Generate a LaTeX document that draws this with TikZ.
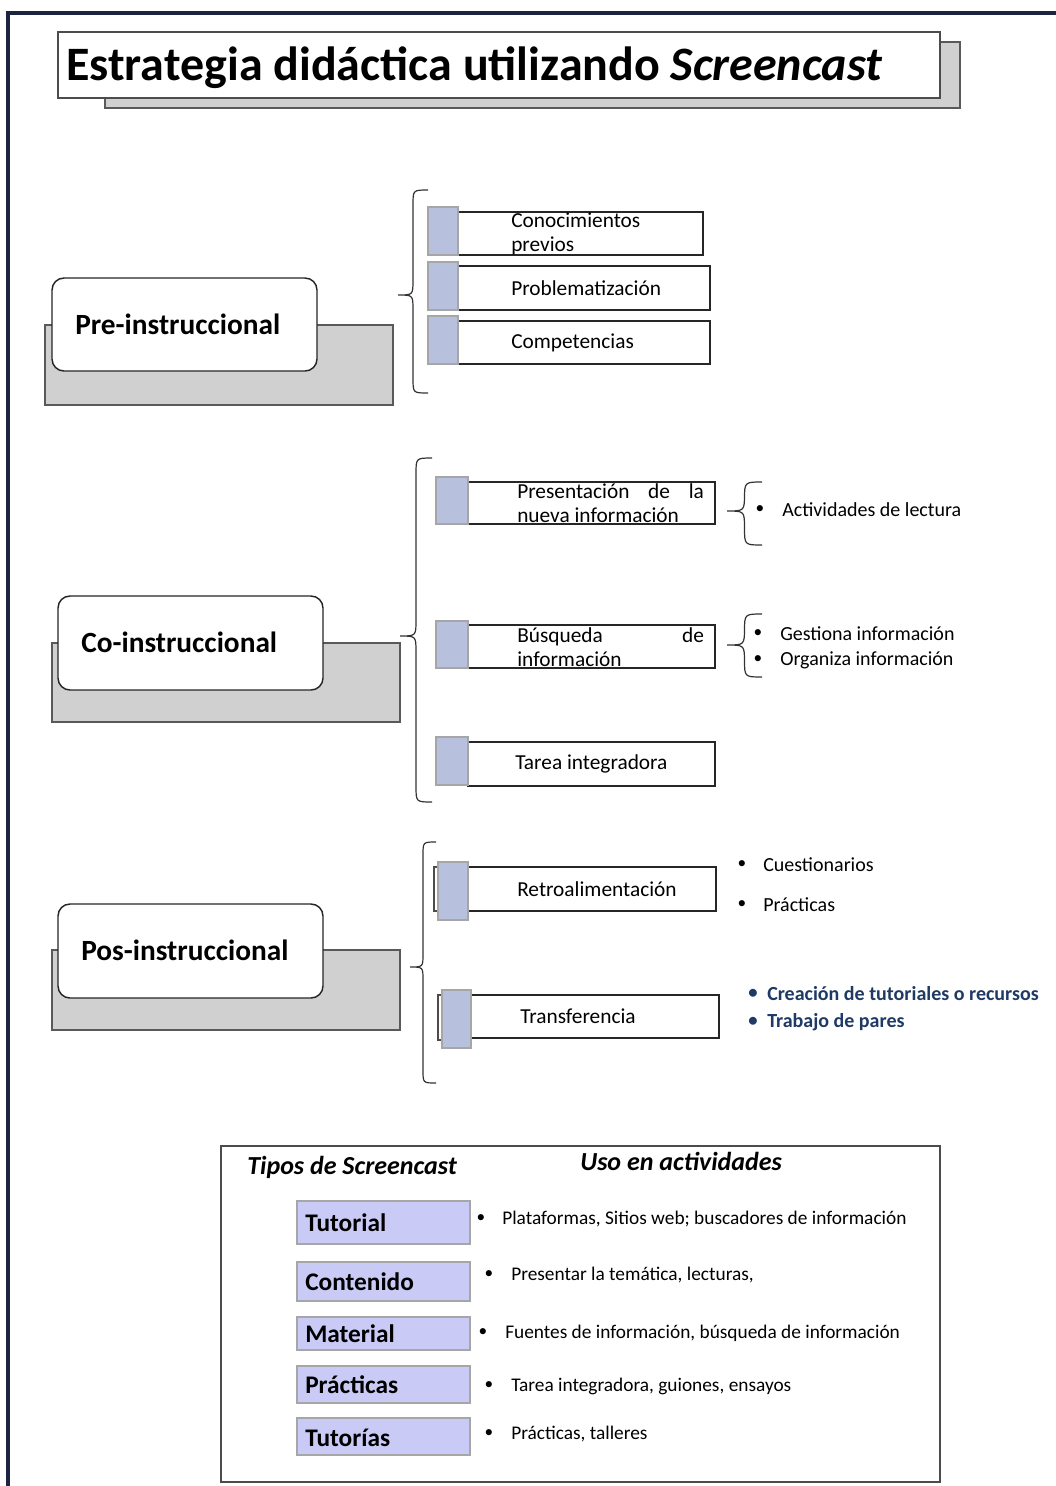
\documentclass[tikz,border=0pt]{standalone}
\usepackage{fontspec}
\setmainfont{Carlito}
\usetikzlibrary{fit}
\definecolor{navy}{HTML}{1B2440}
\definecolor{shade}{HTML}{D0D0D0}
\definecolor{sqblue}{HTML}{B7C1DD}
\definecolor{lav}{HTML}{CACAF6}
\definecolor{dblue}{HTML}{1F3A64}
% xend, xtip, ytop, ytip, ybot
\newcommand{\curlybrace}[5]{%
  \pgfmathsetmacro{\cbm}{(#1+#2)/2}%
  \pgfmathsetmacro{\cbh}{abs(#1-#2)/2}%
  \draw[bracestyle] (#1,#3) .. controls (\cbm,#3) .. (\cbm,#3+\cbh)
     -- (\cbm,#4-\cbh) .. controls (\cbm,#4) .. (#2,#4)
     .. controls (\cbm,#4) .. (\cbm,#4+\cbh)
     -- (\cbm,#5-\cbh) .. controls (\cbm,#5) .. (#1,#5);%
}
\begin{document}
\begin{tikzpicture}[x=0.75pt,y=-0.75pt,
  graybox/.style={draw=black!65, fill=shade, line width=0.8pt, inner sep=0pt},
  stagebox/.style={draw=black!85, fill=white, line width=1.1pt, rounded corners=9pt, inner sep=0pt},
  stagetext/.style={anchor=west, inner sep=0pt, font=\bfseries\fontsize{22}{26}\selectfont},
  itembox/.style={draw=black!85, fill=white, line width=1pt, inner sep=0pt},
  bluesq/.style={draw=black!35, fill=sqblue, line width=0.8pt, inner sep=0pt},
  itemtext/.style={anchor=west, inner sep=0pt, align=left, font=\fontsize{16}{18}\selectfont},
  bul/.style={inner sep=0pt, font=\fontsize{13}{18}\selectfont},
  bultext/.style={anchor=west, inner sep=0pt, font=\fontsize{15}{18}\selectfont},
  bluebul/.style={inner sep=0pt, text=dblue, font=\bfseries\fontsize{14}{18}\selectfont},
  bluetext/.style={anchor=west, inner sep=0pt, text=dblue, font=\bfseries\fontsize{15}{18}\selectfont},
  usetext/.style={anchor=west, inner sep=0pt, font=\fontsize{14.5}{17}\selectfont},
  usebul/.style={inner sep=0pt, font=\fontsize{13}{17}\selectfont},
  typebox/.style={draw=black!35, fill=lav, line width=0.8pt, inner sep=0pt},
  typetext/.style={anchor=west, inner sep=0pt, font=\bfseries\fontsize{19}{22}\selectfont},
  headtext/.style={anchor=west, inner sep=0pt, font=\bfseries\itshape\fontsize{19.5}{22}\selectfont},
  bracestyle/.style={draw=black!80, line width=0.9pt},
  bracket/.style={draw=black!70, line width=0.9pt}
]
\useasboundingbox (0,0) rectangle (1056,1486);
\fill[white] (0,0) rectangle (1056,1486);
% outer frame
\draw[navy, line width=2.4pt] (8,1486) -- (8,13) -- (1056,13);

% title
\node[graybox, fit={(105,42)(960,108)}] (titleG) {};
\node[draw=black!70, fill=white, line width=0.9pt, inner sep=0pt, fit={(58,32)(940,98)}] (titleB) {};
\node[anchor=west, inner sep=0pt, font=\bfseries\fontsize{36}{40}\selectfont] (titleT) at (66,68) {Estrategia didáctica utilizando \textit{Screencast}};

% ---------- Pre-instruccional
\node[graybox, fit={(45,325)(393,405)}] (preG) {};
\node[stagebox, fit={(52,278)(317,371)}] (preB) {};
\node[stagetext] (preT) at (75,324) {Pre-instruccional};
\curlybrace{428}{398}{190}{295}{393}
\node[itembox, fit={(458,212)(703,255)}] (i1) {};
\node[bluesq, fit={(428,207)(458,255)}] (s1) {};
\node[itemtext, font=\fontsize{16}{17.5}\selectfont] (t1) at (511,234) {Conocimientos\\previos};
\node[itembox, fit={(458,266)(710,310)}] (i2) {};
\node[bluesq, fit={(428,262)(458,310)}] (s2) {};
\node[itemtext] (t2) at (511,288) {Problematización};
\node[itembox, fit={(458,321)(710,364)}] (i3) {};
\node[bluesq, fit={(428,316)(458,364)}] (s3) {};
\node[itemtext] (t3) at (511,343) {Competencias};

% ---------- Co-instruccional
\node[graybox, fit={(52,643)(400,722)}] (coG) {};
\node[stagebox, fit={(58,596)(323,690)}] (coB) {};
\node[stagetext] (coT) at (81,642) {Co-instruccional};
\curlybrace{432}{400}{458}{636}{802}
\node[itembox, fit={(468,482)(715,524)}] (i4) {};
\node[bluesq, fit={(436,477)(468,524)}] (s4) {};
\node[itemtext, font=\fontsize{16}{17.5}\selectfont] (t4) at (517,503) {\makebox[140pt][s]{Presentación de la}\\nueva información};
\curlybrace{762}{727}{482}{511}{545}
\node[bul] (b1) at (760,510) {•};
\node[bultext] (l1) at (782,510) {Actividades de lectura};

\node[itembox, fit={(468,625)(715,668)}] (i5) {};
\node[bluesq, fit={(436,621)(468,668)}] (s5) {};
\node[itemtext, font=\fontsize{16}{17.5}\selectfont] (t5) at (517,647) {\makebox[140pt][s]{Búsqueda de}\\información};
\curlybrace{762}{727}{614}{645}{677}
\node[bul] (b2) at (758,634) {•};
\node[bultext] (l2) at (780,634) {Gestiona información};
\node[bul] (b3) at (758,660) {•};
\node[bultext] (l3) at (780,660) {Organiza información};

\node[itembox, fit={(468,742)(715,786)}] (i6) {};
\node[bluesq, fit={(436,737)(468,785)}] (s6) {};
\node[itemtext] (t6) at (515,764) {Tarea integradora};

% ---------- Pos-instruccional
\node[graybox, fit={(52,950)(400,1030)}] (posG) {};
\node[stagebox, fit={(58,904)(323,998)}] (posB) {};
\node[stagetext] (posT) at (81,950) {Pos-instruccional};
\curlybrace{436}{410}{842}{967}{1083}
\node[itembox, fit={(468,867)(716,911)}] (i7) {};
\draw[bracket] (439,867) -- (434,867) -- (434,911) -- (439,911);
\node[bluesq, fit={(438,862)(468,920)}] (s7) {};
\node[itemtext] (t7) at (517,889) {Retroalimentación};
\node[bul] (b4) at (742,865) {•};
\node[bultext] (l4) at (763,865) {Cuestionarios};
\node[bul] (b5) at (742,905) {•};
\node[bultext] (l5) at (763,905) {Prácticas};

\node[itembox, fit={(471,995)(719,1038)}] (i8) {};
\draw[bracket] (443,995) -- (438,995) -- (438,1040) -- (443,1040);
\node[bluesq, fit={(442,990)(471,1048)}] (s8) {};
\node[itemtext] (t8) at (520,1016) {Transferencia};
\node[bluebul] (b6) at (753,994) {•};
\node[bluetext] (l6) at (767,994) {Creación de tutoriales o recursos};
\node[bluebul] (b7) at (753,1022) {•};
\node[bluetext] (l7) at (767,1022) {Trabajo de pares};

% ---------- Tipos de Screencast
\node[draw=black!70, line width=1.1pt, inner sep=0pt, fit={(221,1146)(940,1482)}] (tab) {};
\node[headtext] (h1) at (247,1167) {Tipos de Screencast};
\node[headtext] (h2) at (580,1161) {Uso en actividades};

\node[typebox, fit={(297,1201)(470,1244)}] (k1) {};
\node[typetext] (k1t) at (305,1223) {Tutorial};
\node[usebul] (u1b) at (481,1219) {•};
\node[usetext] (u1) at (502,1219) {Plataformas, Sitios web; buscadores de información};

\node[typebox, fit={(297,1262)(470,1301)}] (k2) {};
\node[typetext] (k2t) at (305,1282) {Contenido};
\node[usebul] (u2b) at (489,1275) {•};
\node[usetext] (u2) at (511,1275) {Presentar la temática, lecturas,};

\node[typebox, fit={(297,1317)(470,1350)}] (k3) {};
\node[typetext] (k3t) at (305,1334) {Material};
\node[usebul] (u3b) at (483,1333) {•};
\node[usetext] (u3) at (505,1333) {Fuentes de información, búsqueda de información};

\node[typebox, fit={(297,1366)(470,1403)}] (k4) {};
\node[typetext] (k4t) at (305,1385) {Prácticas};
\node[usebul] (u4b) at (489,1386) {•};
\node[usetext] (u4) at (511,1386) {Tarea integradora, guiones, ensayos};

\node[typebox, fit={(297,1418)(470,1455)}] (k5) {};
\node[typetext] (k5t) at (305,1438) {Tutorías};
\node[usebul] (u5b) at (489,1434) {•};
\node[usetext] (u5) at (511,1434) {Prácticas, talleres};
\end{tikzpicture}
\end{document}
